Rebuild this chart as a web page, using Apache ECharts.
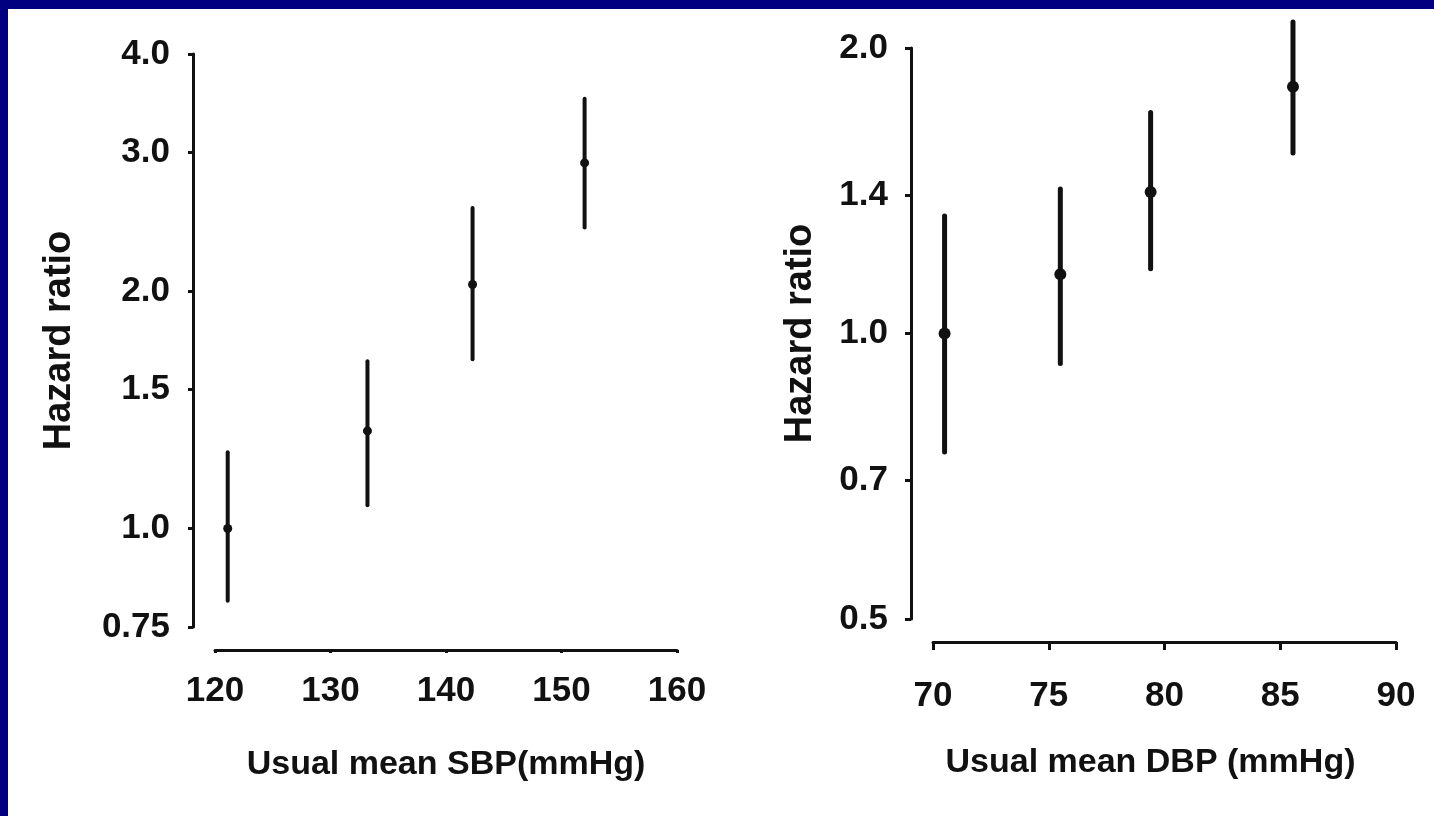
<!DOCTYPE html>
<html>
<head>
<meta charset="utf-8">
<script src="https://cdn.jsdelivr.net/npm/echarts@6/dist/echarts.min.js"></script>
<style>
  html, body { margin: 0; padding: 0; background: #fff; }
  #chart { width: 1434px; height: 816px; }
</style>
</head>
<body>
<div id="chart"></div>
<script>
// Hazard ratio by usual mean systolic blood pressure (point estimate and 95% CI)
const sbpX = [121.1, 133.2, 142.3, 152.0];
const sbpHR = [1.00, 1.33, 2.04, 2.91];
const sbpLow = [0.81, 1.07, 1.64, 2.41];
const sbpHigh = [1.25, 1.63, 2.55, 3.51];
const sbpYTicks = [0.75, 1.0, 1.5, 2.0, 3.0, 4.0];
const sbpYLabels = ['0.75', '1.0', '1.5', '2.0', '3.0', '4.0'];

// Hazard ratio by usual mean diastolic blood pressure
const dbpX = [70.5, 75.5, 79.4, 85.55];
const dbpHR = [1.00, 1.155, 1.41, 1.82];
const dbpLow = [0.75, 0.93, 1.17, 1.55];
const dbpHigh = [1.33, 1.42, 1.71, 2.13];
const dbpYTicks = [0.5, 0.7, 1.0, 1.4, 2.0];
const dbpYLabels = ['0.5', '0.7', '1.0', '1.4', '2.0'];

const INK = '#111';
const FONT = '"Liberation Sans", Arial, Helvetica, sans-serif';
const WEIGHT = 'bold';

// hazard ratios are plotted on a logarithmic scale (natural log on a value axis)
const ln = Math.log;

function rows(xs, hr, lo, hi) {
  return xs.map((x, i) => [x, ln(hr[i]), ln(lo[i]), ln(hi[i])]);
}

function tickLabeller(ticks, labels) {
  return function (v) {
    let best = 0;
    for (let i = 1; i < ticks.length; i++) {
      if (Math.abs(ln(ticks[i]) - v) < Math.abs(ln(ticks[best]) - v)) best = i;
    }
    return labels[best];
  };
}

function errorBar(lineWidth, radius) {
  return function (params, api) {
    const x = api.value(0);
    const p = api.coord([x, api.value(1)]);
    const lo = api.coord([x, api.value(2)]);
    const hi = api.coord([x, api.value(3)]);
    return {
      type: 'group',
      children: [
        { type: 'line', shape: { x1: lo[0], y1: lo[1], x2: hi[0], y2: hi[1] },
          style: { stroke: INK, lineWidth: lineWidth, lineCap: 'round' } },
        { type: 'circle', shape: { cx: p[0], cy: p[1], r: radius },
          style: { fill: INK } }
      ]
    };
  };
}

function xAxisDef(gridIndex, min, max, interval, name, opts) {
  return {
    type: 'value', gridIndex, min, max, interval,
    offset: opts.offset,
    name, nameLocation: 'middle', nameGap: opts.nameGap,
    nameTextStyle: { color: INK, fontFamily: FONT, fontWeight: WEIGHT, fontSize: 34,
                     padding: opts.namePadding || 0 },
    axisLine: { show: true, onZero: false, lineStyle: { color: INK, width: 3 } },
    axisTick: { show: true, inside: false, length: opts.tickLen, lineStyle: { color: INK, width: 3 } },
    axisLabel: { color: INK, fontFamily: FONT, fontWeight: WEIGHT, fontSize: 35,
                 margin: opts.labelMargin },
    splitLine: { show: false }
  };
}

function yAxisDef(gridIndex, ticks, labels, opts) {
  const vals = ticks.map(ln);
  return {
    type: 'value', gridIndex,
    min: vals[0], max: vals[vals.length - 1],
    offset: opts.offset,
    name: 'Hazard ratio', nameLocation: 'middle', nameRotate: 90, nameGap: opts.nameGap,
    nameTextStyle: { color: INK, fontFamily: FONT, fontWeight: WEIGHT, fontSize: 38 },
    axisLine: { show: true, onZero: false, lineStyle: { color: INK, width: 3 } },
    axisTick: { show: true, inside: false, length: opts.tickLen, customValues: vals,
                lineStyle: { color: INK, width: 3 } },
    axisLabel: { color: INK, fontFamily: FONT, fontWeight: WEIGHT, fontSize: 35,
                 margin: opts.labelMargin,
                 customValues: vals, formatter: tickLabeller(ticks, labels) },
    splitLine: { show: false }
  };
}

const chart = echarts.init(document.getElementById('chart'), null, { renderer: 'canvas' });

chart.setOption({
  backgroundColor: '#ffffff',
  animation: false,
  graphic: [
    { type: 'rect', left: 0, top: 0, shape: { width: 1434, height: 9 }, style: { fill: '#000080' }, z: 100 },
    { type: 'rect', left: 0, top: 0, shape: { width: 8, height: 816 }, style: { fill: '#000080' }, z: 100 }
  ],
  grid: [
    { left: 215, top: 54, width: 462, height: 573 },
    { left: 933, top: 48, width: 463, height: 571 }
  ],
  xAxis: [
    xAxisDef(0, 120, 160, 10, 'Usual mean SBP(mmHg)',
      { offset: 23, tickLen: 3, labelMargin: 24, nameGap: 98 }),
    xAxisDef(1, 70, 90, 5, 'Usual mean DBP (mmHg)',
      { offset: 23, tickLen: 8, labelMargin: 37, nameGap: 104, namePadding: [0, 28, 0, 0] })
  ],
  yAxis: [
    yAxisDef(0, sbpYTicks, sbpYLabels, { offset: 22, tickLen: 5, labelMargin: 23, nameGap: 114 }),
    yAxisDef(1, dbpYTicks, dbpYLabels, { offset: 22, tickLen: 6, labelMargin: 23, nameGap: 91 })
  ],
  series: [
    {
      type: 'custom', name: 'SBP', xAxisIndex: 0, yAxisIndex: 0,
      renderItem: errorBar(4, 4.5),
      encode: { x: 0, y: [1, 2, 3] },
      data: rows(sbpX, sbpHR, sbpLow, sbpHigh),
      clip: false
    },
    {
      type: 'custom', name: 'DBP', xAxisIndex: 1, yAxisIndex: 1,
      renderItem: errorBar(5, 6),
      encode: { x: 0, y: [1, 2, 3] },
      data: rows(dbpX, dbpHR, dbpLow, dbpHigh),
      clip: false
    }
  ]
});
</script>
</body>
</html>
